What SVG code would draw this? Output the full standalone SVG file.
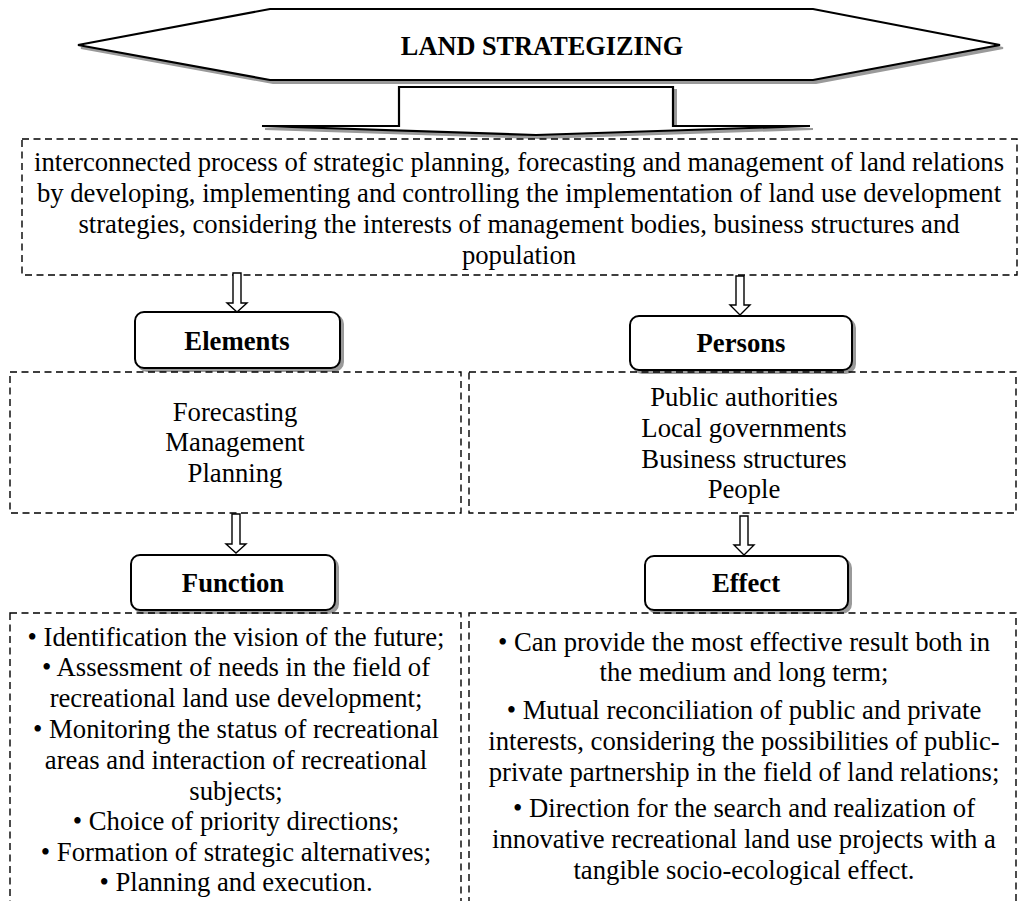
<svg xmlns="http://www.w3.org/2000/svg" width="1019" height="901" viewBox="0 0 1019 901">
<style>
  .bg { fill: #ffffff; }
  .dash { fill: none; stroke: #000; stroke-width: 1.4; stroke-dasharray: 7 4.5; }
  .shadow { fill: #9a9a9a; stroke: #9a9a9a; stroke-width: 2; }
  .shape { fill: #fff; stroke: #000; stroke-width: 2.2; stroke-linejoin: miter; }
  .rbox { fill: #fff; stroke: #000; stroke-width: 2; }
  .hollow { fill: #fff; stroke: #000; stroke-width: 1.4; stroke-linejoin: miter; }
  .txt { font-family: "Liberation Serif", "Times New Roman", serif; font-size: 26.7px; fill: #000; text-anchor: middle; }
  .bold { font-family: "Liberation Serif", "Times New Roman", serif; font-size: 26.7px; font-weight: bold; fill: #000; text-anchor: middle; }
  .head { font-size: 26.3px; }
</style>
<rect class="bg" x="0" y="0" width="1019" height="901"/>

<g id="title">
  <polygon class="shadow" points="81,48 273,12 816,12 1003,48 816,83 273,83"/>
  <polygon class="shape" points="78,45 270,9 813,9 1000,45 813,80 270,80"/>
  <text class="bold head" x="542" y="55">LAND STRATEGIZING</text>
</g>

<g id="title-arrow">
  <polygon class="shadow" points="402,90 676,90 676,129 813,129 539,138 265,129 402,129"/>
  <polygon class="shape" points="399,87 673,87 673,126 810,126 536,135 262,126 399,126"/>
</g>

<g id="definition">
  <rect class="dash" x="22" y="139" width="995" height="136"/>
  <text class="txt" x="519" y="171">interconnected process of strategic planning, forecasting and management of land relations</text>
  <text class="txt" x="519" y="202">by developing, implementing and controlling the implementation of land use development</text>
  <text class="txt" x="519" y="233">strategies, considering the interests of management bodies, business structures and</text>
  <text class="txt" x="519" y="264">population</text>
</g>

<g id="connectors">
  <polygon class="hollow" points="233,273 241,273 241,303 247,303 237,312 227,303 233,303"/>
  <polygon class="hollow" points="736,276 744,276 744,305 750,305 740,315 730,305 736,305"/>
  <polygon class="hollow" points="232,514 240,514 240,544 246,544 236,553 226,544 232,544"/>
  <polygon class="hollow" points="740,516 748,516 748,545 754,545 744,555 734,545 740,545"/>
</g>

<g id="elements">
  <rect class="shadow" x="138" y="315" width="205" height="56" rx="9"/>
  <rect class="rbox" x="135" y="312" width="205" height="56" rx="9"/>
  <text class="bold" x="237" y="350">Elements</text>
</g>

<g id="persons">
  <rect class="shadow" x="633" y="319" width="222" height="54" rx="9"/>
  <rect class="rbox" x="630" y="316" width="222" height="54" rx="9"/>
  <text class="bold" x="741" y="352">Persons</text>
</g>

<g id="elements-list">
  <rect class="dash" x="10" y="372" width="451" height="141"/>
  <text class="txt" x="235" y="421">Forecasting</text>
  <text class="txt" x="235" y="451">Management</text>
  <text class="txt" x="235" y="482">Planning</text>
</g>

<g id="persons-list">
  <rect class="dash" x="469" y="372" width="547" height="141"/>
  <text class="txt" x="744" y="406">Public authorities</text>
  <text class="txt" x="744" y="437">Local governments</text>
  <text class="txt" x="744" y="468">Business structures</text>
  <text class="txt" x="744" y="498">People</text>
</g>

<g id="function">
  <rect class="shadow" x="134" y="558" width="204" height="55" rx="9"/>
  <rect class="rbox" x="131" y="555" width="204" height="55" rx="9"/>
  <text class="bold" x="233" y="592">Function</text>
</g>

<g id="effect">
  <rect class="shadow" x="648" y="559" width="203" height="54" rx="9"/>
  <rect class="rbox" x="645" y="556" width="203" height="54" rx="9"/>
  <text class="bold" x="746" y="592">Effect</text>
</g>

<g id="function-list">
  <rect class="dash" x="10" y="613" width="451" height="300"/>
  <text class="txt" x="236" y="646">• Identification the vision of the future;</text>
  <text class="txt" x="236" y="676">• Assessment of needs in the field of</text>
  <text class="txt" x="236" y="707">recreational land use development;</text>
  <text class="txt" x="236" y="738">• Monitoring the status of recreational</text>
  <text class="txt" x="236" y="769">areas and interaction of recreational</text>
  <text class="txt" x="236" y="800">subjects;</text>
  <text class="txt" x="236" y="830">• Choice of priority directions;</text>
  <text class="txt" x="236" y="861">• Formation of strategic alternatives;</text>
  <text class="txt" x="236" y="891">• Planning and execution.</text>
</g>

<g id="effect-list">
  <rect class="dash" x="469" y="613" width="547" height="300"/>
  <text class="txt" x="744" y="651">• Can provide the most effective result both in</text>
  <text class="txt" x="744" y="681">the medium and long term;</text>
  <text class="txt" x="744" y="719">• Mutual reconciliation of public and private</text>
  <text class="txt" x="744" y="750">interests, considering the possibilities of public-</text>
  <text class="txt" x="744" y="781">private partnership in the field of land relations;</text>
  <text class="txt" x="744" y="817">• Direction for the search and realization of</text>
  <text class="txt" x="744" y="848">innovative recreational land use projects with a</text>
  <text class="txt" x="744" y="879">tangible socio-ecological effect.</text>
</g>
</svg>
